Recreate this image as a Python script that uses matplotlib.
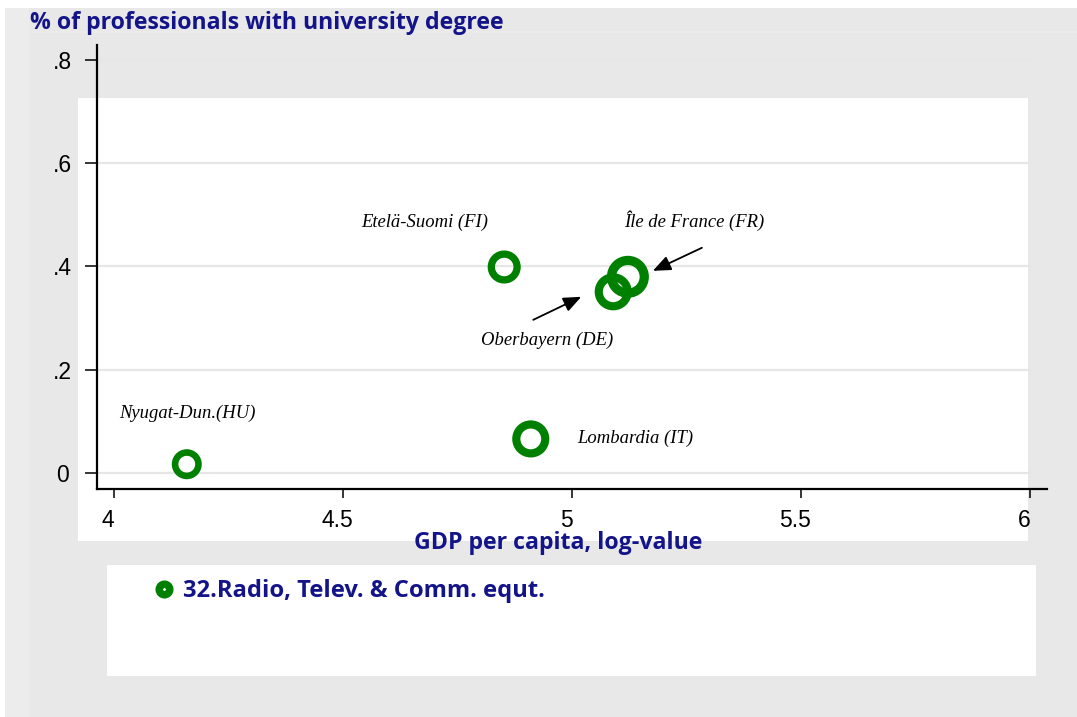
import numpy as np
import matplotlib
matplotlib.use('Agg')
import matplotlib.pyplot as plt
from matplotlib.patches import Rectangle
from matplotlib.lines import Line2D
from matplotlib.transforms import offset_copy, ScaledTranslation

# data
regions = ['Nyugat-Dun.(HU)', 'Lombardia (IT)', 'Etelä-Suomi (FI)', 'Oberbayern (DE)', 'Île de France (FR)']
gdp_log = [4.159, 4.910, 4.852, 5.090, 5.122]
share_univ = [0.017, 0.066, 0.399, 0.351, 0.380]
weights = [0.51, 0.78, 0.62, 0.78, 1.00]   # analytic weights -> marker size

x_ticks = [4, 4.5, 5, 5.5, 6]
x_ticklabels = ['4', '4.5', '5', '5.5', '6']
y_ticks = [0, 0.2, 0.4, 0.6, 0.8]
y_ticklabels = ['0', '.2', '.4', '.6', '.8']

series_name = '32.Radio, Telev. & Comm. equt.'
x_title = 'GDP per capita, log-value'
y_title = '% of professionals with university degree'

# label offsets from each point (points), arrows as (tail, tip) offsets
label_offsets = [(0.7, 36.7), (74.9, 0.7), (-56.9, 32.4), (-47.5, -35.3), (47.5, 40.3)]
arrows = {3: ((-57.6, -20.2), (-23.0, -3.6)),
          4: ((53.3, 20.9), (18.0, 4.3))}

W, H = 1077, 717
green = '#008000'
navy = '#14148a'
gray = '#e8e8e8'
title_font = dict(family='Open Sans', fontweight='bold', fontsize=16.7)

fig = plt.figure(figsize=(W / 100, H / 100), dpi=100)
fig.patch.set_facecolor('white')


def px_rect(x0, y0, x1, y1, color):
    # rectangle given in pixel coords measured from top-left
    r = Rectangle((x0 / W, 1 - y1 / H), (x1 - x0) / W, (y1 - y0) / H,
                  transform=fig.transFigure, facecolor=color, edgecolor='none', zorder=-5)
    fig.patches.append(r)


px_rect(5, 8, W, H, gray)
px_rect(5, 8, 29, H, '#ececec')
px_rect(29, 31, W, 33, '#ebebeb')
px_rect(78, 98, 1028, 541, 'white')
px_rect(107, 565, 1036, 676, 'white')

ax = fig.add_axes([97 / W, 1 - 489 / H, (1047 - 97) / W, (489 - 45) / H])
ax.patch.set_visible(False)
ax.set_xlim(3.963, 6.037)
ax.set_ylim(-0.031, 0.829)

for s in ['top', 'right']:
    ax.spines[s].set_visible(False)
for s in ['left', 'bottom']:
    ax.spines[s].set_linewidth(1.6)

# horizontal grid
ax.hlines(y_ticks, 3.963, 6.0, color='#e6e6e6', lw=1.6, zorder=0)

# rings, size by weight
diam_px = 42 * np.sqrt(np.array(weights))
ring_px = 0.22 * diam_px
lw_pt = ring_px * 0.72
size_pt = (diam_px - ring_px) * 0.72
ax.scatter(gdp_log, share_univ, s=size_pt ** 2, facecolors='none', edgecolors=green,
           linewidths=lw_pt, zorder=3)

for i, name in enumerate(regions):
    dx, dy = label_offsets[i]
    ax.annotate(name, (gdp_log[i], share_univ[i]), xytext=(dx, dy), textcoords='offset points',
                ha='center', va='center', fontsize=13.4, fontstyle='italic',
                family='Liberation Serif', color='black')

for i, (tail, tip) in arrows.items():
    tail_tr = offset_copy(ax.transData, fig=fig, x=tail[0], y=tail[1], units='points')
    tip_tr = offset_copy(ax.transData, fig=fig, x=tip[0], y=tip[1], units='points')
    ax.annotate('', xy=(gdp_log[i], share_univ[i]), xycoords=tip_tr,
                xytext=(gdp_log[i], share_univ[i]), textcoords=tail_tr,
                arrowprops=dict(arrowstyle='-|>,head_length=0.6,head_width=0.25',
                                mutation_scale=18, lw=1.3, color='black',
                                shrinkA=0, shrinkB=0))

ax.set_xticks(x_ticks)
ax.set_xticklabels(x_ticklabels, family='Liberation Sans', fontsize=16.5)
ax.set_yticks(y_ticks)
ax.set_yticklabels(y_ticklabels, family='Liberation Sans', fontsize=16.5, ha='center')
ax.tick_params(axis='x', length=6.5, width=1.1, pad=8, direction='out')
ax.tick_params(axis='y', length=8.5, width=1.1, pad=16.5, direction='out')

shift = ScaledTranslation(-6 / 100, 0, fig.dpi_scale_trans)
for lbl in ax.get_xticklabels():
    lbl.set_transform(lbl.get_transform() + shift)

fig.text(558 / W, 1 - 543 / H, x_title, ha='center', va='center', color=navy, **title_font)
fig.text(30 / W, 1 - 23 / H, y_title, ha='left', va='center', color=navy, **title_font)

handle = Line2D([], [], marker='o', ls='', mfc='white', mec=green, ms=7.6, mew=5.4)
fig.legend(handles=[handle], labels=[series_name], loc='center left',
           bbox_to_anchor=(152 / W, 1 - 591 / H), frameon=False, handlelength=1.0,
           handletextpad=0.3, borderpad=0, borderaxespad=0,
           prop=dict(family='Open Sans', weight='bold', size=17.1), labelcolor=navy)

fig.savefig('out.png', dpi=100)
